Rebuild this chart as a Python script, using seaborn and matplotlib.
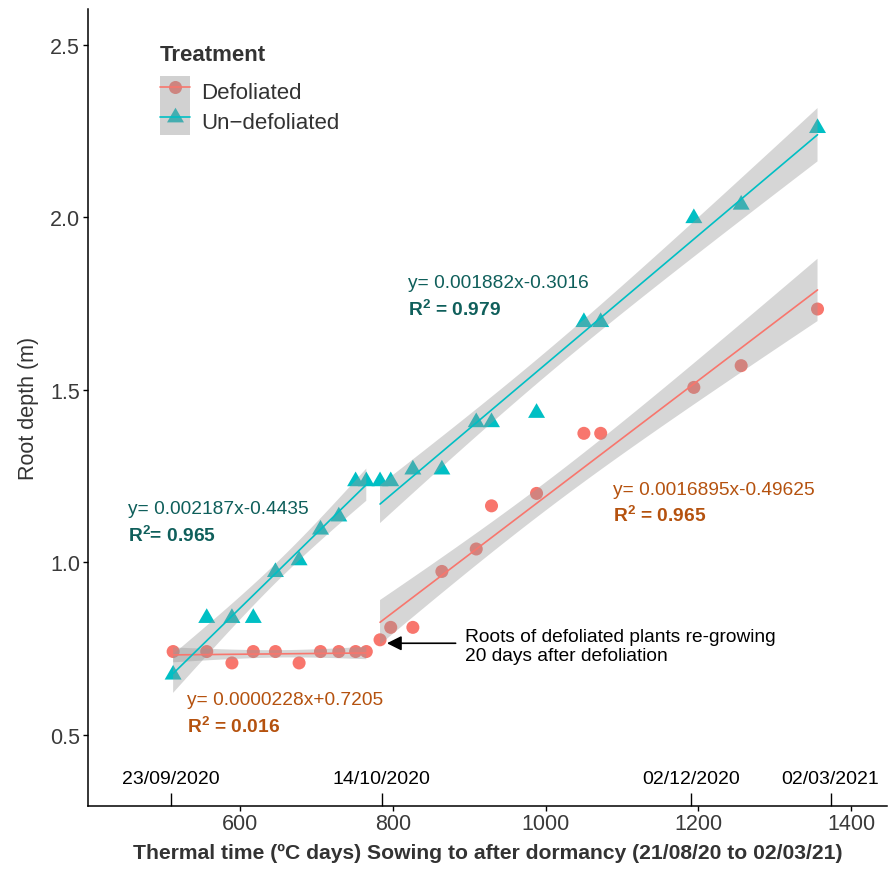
import numpy as np
import pandas as pd
import matplotlib
matplotlib.use("Agg")
import matplotlib.pyplot as plt
from matplotlib.lines import Line2D
from matplotlib.patches import Patch
from matplotlib.legend_handler import HandlerTuple
import seaborn as sns

# ---------------- data ----------------
thermal_time = [512, 556, 589, 617, 646, 677, 705, 729, 751, 765, 783,
                797, 826, 864, 909, 929, 988, 1050, 1072, 1194, 1256, 1356]
defoliated = [0.742, 0.742, 0.709, 0.742, 0.742, 0.709, 0.742, 0.742, 0.742,
              0.742, 0.776, 0.812, 0.812, 0.974, 1.039, 1.164, 1.200, 1.374,
              1.374, 1.507, 1.570, 1.734]
undefoliated = [0.675, 0.839, 0.839, 0.839, 0.972, 1.006, 1.095, 1.133, 1.235,
                1.235, 1.235, 1.235, 1.269, 1.269, 1.406, 1.406, 1.433, 1.696,
                1.696, 1.997, 2.036, 2.258]
phase = ["before"] * 10 + ["after"] * 12
treatments = ["Defoliated", "Un\u2212defoliated"]
colors = {"Defoliated": "#F8766D", "Un\u2212defoliated": "#00BFC4"}

date_ticks = [509, 785, 1190, 1373]
date_labels = ["23/09/2020", "14/10/2020", "02/12/2020", "02/03/2021"]
y_ticks = [0.5, 1.0, 1.5, 2.0, 2.5]
x_ticks = [600, 800, 1000, 1200, 1400]

eq_labels = [
    # (equation, R2 text, x, y_eq, y_r2, color)
    ("y= 0.002187x-0.4435", r"R$^{\mathbf{2}}$= 0.965", 453, 1.155, 1.082, "#0F5F5B"),
    ("y= 0.001882x-0.3016", r"R$^{\mathbf{2}}$ = 0.979", 819, 1.811, 1.734, "#0F5F5B"),
    ("y= 0.0016895x-0.49625", r"R$^{\mathbf{2}}$ = 0.965", 1088, 1.211, 1.140, "#B5520F"),
    ("y= 0.0000228x+0.7205", r"R$^{\mathbf{2}}$ = 0.016", 530, 0.6025, 0.527, "#B5520F"),
]

df = pd.DataFrame({
    "x": thermal_time * 2,
    "y": defoliated + undefoliated,
    "Treatment": [treatments[0]] * len(thermal_time) + [treatments[1]] * len(thermal_time),
    "phase": phase * 2,
})


def t975(dof):
    try:
        from scipy import stats
        return stats.t.ppf(0.975, dof)
    except Exception:
        table = {8: 2.306, 10: 2.228}
        return table.get(dof, 2.0)


def ols_band(x, y, grid):
    x = np.asarray(x, float)
    y = np.asarray(y, float)
    n = len(x)
    b, a = np.polyfit(x, y, 1)
    resid = y - (a + b * x)
    s = np.sqrt(np.sum(resid ** 2) / (n - 2))
    sxx = np.sum((x - x.mean()) ** 2)
    se = s * np.sqrt(1.0 / n + (grid - x.mean()) ** 2 / sxx)
    fit = a + b * grid
    tq = t975(n - 2)
    return fit - tq * se, fit + tq * se


# ---------------- figure ----------------
sns.set_theme(style="ticks")
plt.rcParams["font.family"] = ["Liberation Sans", "DejaVu Sans"]
plt.rcParams["mathtext.fontset"] = "custom"
plt.rcParams["mathtext.rm"] = "Liberation Sans"
plt.rcParams["mathtext.bf"] = "Liberation Sans:bold"

fig = plt.figure(figsize=(8.9, 8.7), dpi=100)
ax = fig.add_axes([88 / 890, 63.3 / 870, 799 / 890, 796.7 / 870])

tri = [(0, 1), (-0.866, -0.5), (0.866, -0.5)]
markers = {treatments[0]: "o", treatments[1]: tri}
sizes = {treatments[0]: 88, treatments[1]: 199}

for t in treatments:
    sub = df[df["Treatment"] == t]
    sns.scatterplot(data=sub, x="x", y="y", ax=ax, marker=markers[t],
                    s=sizes[t], color=colors[t], edgecolor="none",
                    linewidth=0, zorder=2, legend=False)

for t in treatments:
    for ph in ["before", "after"]:
        sub = df[(df["Treatment"] == t) & (df["phase"] == ph)]
        grid = np.linspace(sub["x"].min(), sub["x"].max(), 100)
        lo, hi = ols_band(sub["x"], sub["y"], grid)
        ax.fill_between(grid, lo, hi, facecolor="#999999", alpha=0.4,
                        edgecolor="none", zorder=3)
        sns.regplot(data=sub, x="x", y="y", ax=ax, scatter=False, ci=None,
                    truncate=True, color=colors[t], line_kws={"lw": 1.2})
        ax.lines[-1].set_zorder(4)

ax.set_xlim(400.5, 1447)
ax.set_ylim(0.2955, 2.603)
ax.set_xticks(x_ticks)
ax.set_yticks(y_ticks)
ax.set_yticklabels([f"{v:.1f}" for v in y_ticks])
ax.tick_params(axis="both", length=3.6, width=1.0, color="black",
               labelsize=15.5, labelcolor="#3a3a3a", pad=2)
for side in ["top", "right"]:
    ax.spines[side].set_visible(False)
for side in ["left", "bottom"]:
    ax.spines[side].set_color("black")
    ax.spines[side].set_linewidth(1.1)

ax.set_xlabel("Thermal time (\u00baC days) Sowing to after dormancy (21/08/20 to 02/03/21)",
              fontsize=15.2, fontweight="bold", color="#333333", labelpad=6)
ax.set_ylabel("Root depth (m)", fontsize=15.5, color="#333333", labelpad=8)

# date ticks inside the axis
sec = ax.secondary_xaxis("bottom")
sec.set_xticks(date_ticks, labels=date_labels)
sec.tick_params(direction="in", length=9.4, width=1.0, color="black",
                labelsize=14, labelcolor="black", pad=-26)
sec.spines["bottom"].set_visible(False)

# equation annotations
for eq, r2, x, ye, yr, c in eq_labels:
    ax.text(x, ye, eq, fontsize=13.8, color=c, va="center", ha="left")
    ax.text(x, yr, r2, fontsize=13.8, color=c, va="center", ha="left",
            fontweight="bold")

ax.annotate("", xy=(792, 0.766), xytext=(882, 0.766),
            arrowprops=dict(arrowstyle="-|>", color="black", lw=1.2,
                            mutation_scale=22, shrinkA=0, shrinkB=0))
ax.text(894, 0.758, "Roots of defoliated plants re-growing\n20 days after defoliation",
        fontsize=13.8, color="black", va="center", ha="left", linespacing=1.15)

# legend
handles = []
for t in treatments:
    pt = Line2D([], [], marker=markers[t], markersize=np.sqrt(sizes[t]),
                color=colors[t], lw=0, markeredgewidth=0)
    gray = Patch(facecolor="#999999", alpha=0.45, edgecolor="none")
    ln = Line2D([], [], color=colors[t], lw=1.2)
    handles.append((pt, gray, ln))
leg = ax.legend(handles, treatments, handler_map={tuple: HandlerTuple(ndivide=1, pad=0)},
                title="Treatment", loc="upper left",
                bbox_to_anchor=((160 - 88) / 799, (806.7 - 45) / 796.7),
                frameon=False, fontsize=16, handlelength=1.35, handleheight=1.67,
                labelspacing=0, handletextpad=0.5, borderpad=0, borderaxespad=0,
                alignment="left",
                title_fontproperties={"weight": "bold", "size": 16})
leg.get_title().set_color("#333333")
for txt in leg.get_texts():
    txt.set_color("#333333")
leg._legend_box.sep = 8

fig.savefig("out.png", dpi=100)
